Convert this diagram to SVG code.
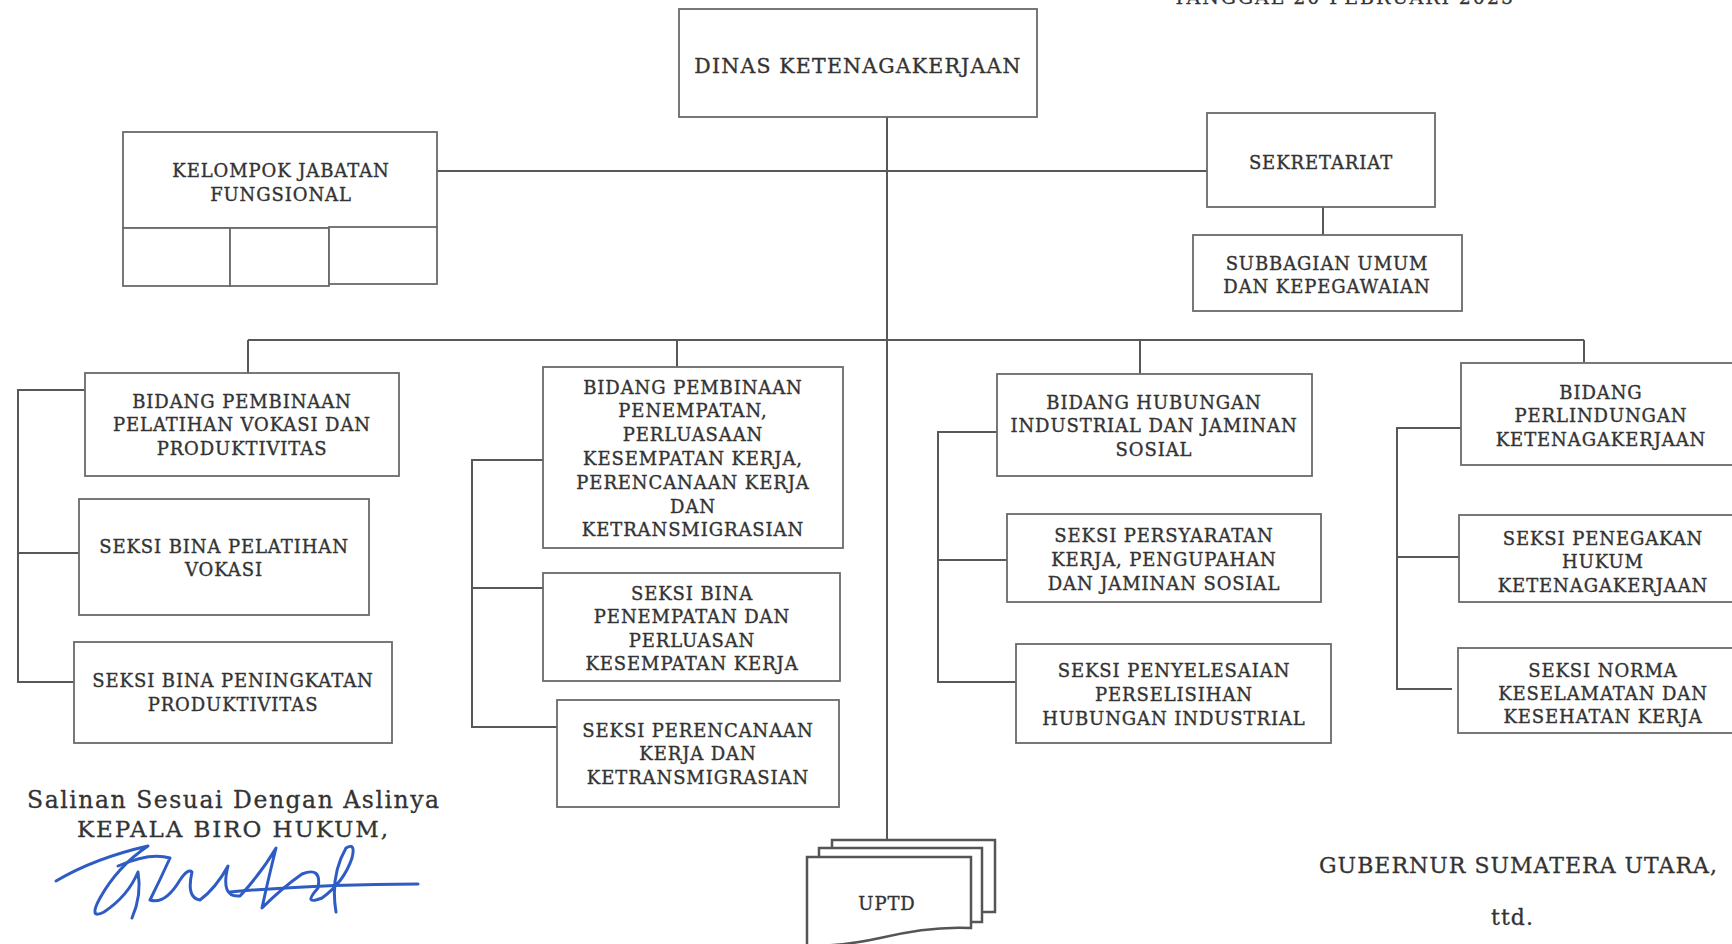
<svg xmlns="http://www.w3.org/2000/svg" width="1732" height="944" viewBox="0 0 1732 944">
<style>
.box{fill:#fff;stroke:#6a6a6a;stroke-width:1.8}
.ln{fill:none;stroke:#585858;stroke-width:2}
.t{font-family:"DejaVu Serif","Liberation Serif",serif;font-size:18px;letter-spacing:0.9px;fill:#333;stroke:#333;stroke-width:0.35;text-anchor:middle}
.big{font-size:20.5px;letter-spacing:1.2px}
.plain{font-family:"DejaVu Serif","Liberation Serif",serif;fill:#333;stroke:#333;stroke-width:0.3}
.sig{fill:none;stroke:#2f5cc4;stroke-width:3;stroke-linecap:round;stroke-linejoin:round}
</style>
<rect width="1732" height="944" fill="#fff"/>
<text class="plain" x="1173" y="4" font-size="19" textLength="340">TANGGAL 20 FEBRUARI 2025</text>

<g id="connectors">
<line class="ln" x1="887" y1="117" x2="887" y2="841"/>
<line class="ln" x1="437" y1="171" x2="1207" y2="171"/>
<line class="ln" x1="1323" y1="207" x2="1323" y2="235"/>
<line class="ln" x1="248" y1="340" x2="1584" y2="340"/>
<line class="ln" x1="248" y1="340" x2="248" y2="373"/>
<line class="ln" x1="677" y1="340" x2="677" y2="367"/>
<line class="ln" x1="1140" y1="340" x2="1140" y2="374"/>
<line class="ln" x1="1584" y1="340" x2="1584" y2="362"/>
<polyline class="ln" points="85,390 18,390 18,682 74,682"/>
<line class="ln" x1="18" y1="553" x2="79" y2="553"/>
<polyline class="ln" points="543,460 472,460 472,727 557,727"/>
<line class="ln" x1="472" y1="588" x2="543" y2="588"/>
<polyline class="ln" points="997,432 938,432 938,682 1016,682"/>
<line class="ln" x1="938" y1="560" x2="1007" y2="560"/>
<polyline class="ln" points="1461,428 1397,428 1397,689 1452,689"/>
<line class="ln" x1="1397" y1="557" x2="1459" y2="557"/>
</g>

<g id="dinas">
<rect class="box" x="679" y="9" width="358" height="108"/>
<text class="t big" x="858" y="72.5">DINAS KETENAGAKERJAAN</text>
</g>

<g id="kelompok">
<rect class="box" x="123" y="132" width="314" height="96"/>
<rect class="box" x="123" y="228" width="107" height="58"/>
<rect class="box" x="230" y="228" width="99" height="58"/>
<rect class="box" x="329" y="227" width="108" height="57"/>
<text class="t" x="281" y="177"><tspan x="281">KELOMPOK JABATAN</tspan><tspan x="281" y="201">FUNGSIONAL</tspan></text>
</g>

<g id="sekretariat">
<rect class="box" x="1207" y="113" width="228" height="94"/>
<text class="t" x="1321" y="168.5">SEKRETARIAT</text>
</g>

<g id="subbagian">
<rect class="box" x="1193" y="235" width="269" height="76"/>
<text class="t" x="1327" y="269.5"><tspan x="1327">SUBBAGIAN UMUM</tspan><tspan x="1327" y="292.5">DAN KEPEGAWAIAN</tspan></text>
</g>

<g id="bidang-pelatihan">
<rect class="box" x="85" y="373" width="314" height="103"/>
<text class="t" x="242" y="407.5"><tspan x="242">BIDANG PEMBINAAN</tspan><tspan x="242" y="431">PELATIHAN VOKASI DAN</tspan><tspan x="242" y="454.5">PRODUKTIVITAS</tspan></text>
</g>
<g id="seksi-pelatihan">
<rect class="box" x="79" y="499" width="290" height="116"/>
<text class="t" x="224" y="552.5"><tspan x="224">SEKSI BINA PELATIHAN</tspan><tspan x="224" y="575.5">VOKASI</tspan></text>
</g>
<g id="seksi-produktivitas">
<rect class="box" x="74" y="642" width="318" height="101"/>
<text class="t" x="233" y="686.5"><tspan x="233">SEKSI BINA PENINGKATAN</tspan><tspan x="233" y="710.5">PRODUKTIVITAS</tspan></text>
</g>

<g id="bidang-penempatan">
<rect class="box" x="543" y="367" width="300" height="181"/>
<text class="t" x="693" y="393.5"><tspan x="693">BIDANG PEMBINAAN</tspan><tspan x="693" y="417.3">PENEMPATAN,</tspan><tspan x="693" y="441.1">PERLUASAAN</tspan><tspan x="693" y="464.9">KESEMPATAN KERJA,</tspan><tspan x="693" y="488.7">PERENCANAAN KERJA</tspan><tspan x="693" y="512.5">DAN</tspan><tspan x="693" y="536.3">KETRANSMIGRASIAN</tspan></text>
</g>
<g id="seksi-penempatan">
<rect class="box" x="543" y="573" width="297" height="108"/>
<text class="t" x="692" y="599.5"><tspan x="692">SEKSI BINA</tspan><tspan x="692" y="623">PENEMPATAN DAN</tspan><tspan x="692" y="646.5">PERLUASAN</tspan><tspan x="692" y="670">KESEMPATAN KERJA</tspan></text>
</g>
<g id="seksi-perencanaan">
<rect class="box" x="557" y="700" width="282" height="107"/>
<text class="t" x="698" y="736.5"><tspan x="698">SEKSI PERENCANAAN</tspan><tspan x="698" y="760">KERJA DAN</tspan><tspan x="698" y="783.5">KETRANSMIGRASIAN</tspan></text>
</g>

<g id="bidang-hubungan">
<rect class="box" x="997" y="374" width="315" height="102"/>
<text class="t" x="1154" y="408.5"><tspan x="1154">BIDANG HUBUNGAN</tspan><tspan x="1154" y="432">INDUSTRIAL DAN JAMINAN</tspan><tspan x="1154" y="455.5">SOSIAL</tspan></text>
</g>
<g id="seksi-persyaratan">
<rect class="box" x="1007" y="514" width="314" height="88"/>
<text class="t" x="1164" y="541.5"><tspan x="1164">SEKSI PERSYARATAN</tspan><tspan x="1164" y="565.5">KERJA, PENGUPAHAN</tspan><tspan x="1164" y="589.5">DAN JAMINAN SOSIAL</tspan></text>
</g>
<g id="seksi-penyelesaian">
<rect class="box" x="1016" y="644" width="315" height="99"/>
<text class="t" x="1174" y="676.5"><tspan x="1174">SEKSI PENYELESAIAN</tspan><tspan x="1174" y="700.5">PERSELISIHAN</tspan><tspan x="1174" y="724.5">HUBUNGAN INDUSTRIAL</tspan></text>
</g>

<g id="bidang-perlindungan">
<rect class="box" x="1461" y="363" width="290" height="102"/>
<text class="t" x="1601" y="398.5"><tspan x="1601">BIDANG</tspan><tspan x="1601" y="422">PERLINDUNGAN</tspan><tspan x="1601" y="445.5">KETENAGAKERJAAN</tspan></text>
</g>
<g id="seksi-penegakan">
<rect class="box" x="1459" y="515" width="292" height="87"/>
<text class="t" x="1603" y="544.5"><tspan x="1603">SEKSI PENEGAKAN</tspan><tspan x="1603" y="568">HUKUM</tspan><tspan x="1603" y="591.5">KETENAGAKERJAAN</tspan></text>
</g>
<g id="seksi-norma">
<rect class="box" x="1458" y="648" width="293" height="85"/>
<text class="t" x="1603" y="676.5"><tspan x="1603">SEKSI NORMA</tspan><tspan x="1603" y="699.5">KESELAMATAN DAN</tspan><tspan x="1603" y="723">KESEHATAN KERJA</tspan></text>
</g>

<g id="uptd">
<rect x="832" y="840" width="163" height="72" fill="#fff" stroke="#555" stroke-width="2.5"/>
<rect x="819" y="848" width="163" height="74" fill="#fff" stroke="#555" stroke-width="2.5"/>
<path d="M807 857 L971 857 L971 928 C935 926 905 932 880 938 C858 943 830 946 807 946 Z" fill="#fff" stroke="#555" stroke-width="2.5"/>
<text class="t" x="887" y="910" font-size="21">UPTD</text>
</g>

<g id="pengesahan">
<text class="plain" x="27" y="808" font-size="23.5" textLength="412">Salinan Sesuai Dengan Aslinya</text>
<text class="plain" x="77" y="837" font-size="23" textLength="311">KEPALA BIRO HUKUM,</text>
<path class="sig" d="M56 881 Q95 858 148 846 Q118 866 100 898 Q88 920 104 912 Q128 896 138 872 Q142 895 132 918"/>
<path class="sig" d="M118 866 Q150 852 170 858 Q160 880 150 900 Q165 905 180 880 Q188 868 192 872 Q186 898 200 900 Q216 888 228 866 Q220 898 240 896 Q262 872 276 848 Q268 880 262 908 Q282 888 302 874 Q322 866 318 888 Q302 906 322 898 Q344 882 352 858 Q356 842 346 848 Q330 876 336 912"/>
<path class="sig" d="M230 892 Q320 884 418 884"/>
<text class="plain" x="1319" y="873" font-size="22" textLength="398">GUBERNUR SUMATERA UTARA,</text>
<text class="plain" x="1491" y="925" font-size="22" textLength="42">ttd.</text>
</g>
</svg>
